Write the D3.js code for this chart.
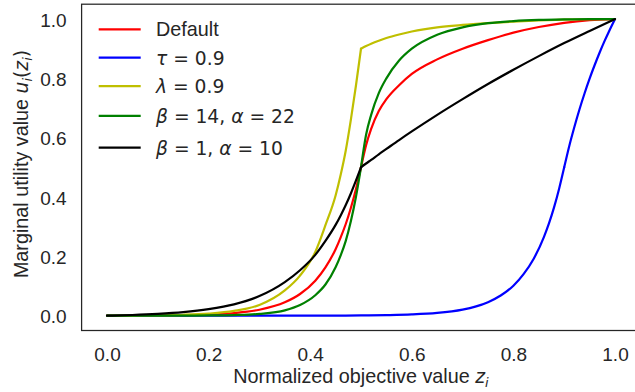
<!DOCTYPE html>
<html>
<head>
<meta charset="utf-8">
<script src="https://cdn.jsdelivr.net/npm/d3@7/dist/d3.min.js"></script>
<style>
  body { margin: 0; background: #fff; }
  svg { display: block; }
</style>
</head>
<body>
<svg id="chart" width="635" height="392"></svg>
<script>
// z grid for the curves with reference point 0.5
const zValues = [0, 0.05, 0.1, 0.15, 0.2, 0.25, 0.3, 0.35, 0.38, 0.41, 0.43, 0.45, 0.46, 0.47, 0.48, 0.49, 0.5,
    0.51, 0.52, 0.535, 0.55, 0.575, 0.6, 0.65, 0.7, 0.75, 0.8, 0.85, 0.9, 0.95, 1.0];

const defaultValues = [0, 0.0002, 0.0007, 0.0017, 0.0039, 0.009, 0.020, 0.045, 0.073, 0.118, 0.163, 0.224, 0.264, 0.309, 0.363, 0.426, 0.5,
    0.575, 0.63, 0.69, 0.73, 0.777, 0.815, 0.864, 0.9, 0.929, 0.954, 0.973, 0.987, 0.996, 1.0];
const lambdaValues = [0, 0.0004, 0.0012, 0.003, 0.007, 0.016, 0.036, 0.085, 0.135, 0.215, 0.305, 0.405, 0.475, 0.557, 0.66, 0.775, 0.9,
    0.909, 0.917, 0.927, 0.936, 0.948, 0.958, 0.972, 0.980, 0.986, 0.991, 0.995, 0.998, 0.9995, 1.0];
const steepValues = [0, 0, 0.0001, 0.0002, 0.0007, 0.002, 0.006, 0.018, 0.036, 0.069, 0.105, 0.163, 0.203, 0.252, 0.318, 0.40, 0.5,
    0.61, 0.677, 0.75, 0.80, 0.86, 0.90, 0.947, 0.972, 0.986, 0.993, 0.997, 0.999, 1.0, 1.0];
const flatValues = [0, 0.0022, 0.006, 0.012, 0.022, 0.038, 0.066, 0.113, 0.153, 0.205, 0.252, 0.306, 0.338, 0.373, 0.412, 0.455, 0.5,
    0.513, 0.525, 0.544, 0.562, 0.592, 0.621, 0.677, 0.730, 0.781, 0.829, 0.875, 0.919, 0.960, 1.0];

// z grid for the tau = 0.9 curve
const zShifted = [0, 0.1, 0.2, 0.3, 0.4, 0.5, 0.55, 0.6, 0.65, 0.7, 0.725, 0.75, 0.775, 0.8, 0.82, 0.84, 0.86, 0.87, 0.88, 0.89, 0.9,
    0.91, 0.92, 0.93, 0.94, 0.95, 0.96, 0.97, 0.98, 0.99, 1.0];
const shiftedValues = [0, 0, 0, 0, 0.0001, 0.0008, 0.0019, 0.0041, 0.0092, 0.0205, 0.0305, 0.0456, 0.068, 0.101, 0.14, 0.192, 0.265, 0.311, 0.365, 0.428, 0.5,
    0.572, 0.636, 0.695, 0.749, 0.799, 0.845, 0.888, 0.928, 0.965, 1.0];

// reference point of each curve (where the two branches meet)
const referencePoints = [0.5, 0.9, 0.5, 0.5, 0.5];

// legend text, split in plain / math-italic / math-roman parts
const legendLabels = [
    [["Default", "text"]],
    [["τ", "mi"], [" = 0.9", "mr"]],
    [["λ", "mi"], [" = 0.9", "mr"]],
    [["β", "mi"], [" = 14, ", "mr"], ["α", "mi"], [" = 22", "mr"]],
    [["β", "mi"], [" = 1, ", "mr"], ["α", "mi"], [" = 10", "mr"]]
];

const xTicks = [0, 0.2, 0.4, 0.6, 0.8, 1.0];
const yTicks = [0, 0.2, 0.4, 0.6, 0.8, 1.0];

window.utilityChart = {
    svg: null,
    x: null,
    y: null,

    textFont: "'Liberation Sans', Arial, sans-serif",
    mathFont: "'DejaVu Sans', sans-serif",
    ink: "#262626",
    textSize: 19.8,
    mathSize: 18.7,

    init: function (svgId) {
        const margin = { left: 81.6, top: 4.2, right: 640.4, bottom: 330.5 };

        this.svg = d3.select(`#${svgId}`);
        this.svg.selectAll("*").remove();

        this.x = d3.scaleLinear().domain([-0.05, 1.05]).range([margin.left, margin.right]);
        this.y = d3.scaleLinear().domain([-0.05, 1.05]).range([margin.bottom, margin.top]);

        const series = [
            { z: zValues, u: defaultValues, color: "#ff0000" },
            { z: zShifted, u: shiftedValues, color: "#0000ff" },
            { z: zValues, u: lambdaValues, color: "#bfbf00" },
            { z: zValues, u: steepValues, color: "#008000" },
            { z: zValues, u: flatValues, color: "#000000" }
        ];

        // Frame (spines)
        this.svg.append("rect")
            .attr("x", margin.left)
            .attr("y", margin.top)
            .attr("width", margin.right - margin.left)
            .attr("height", margin.bottom - margin.top)
            .attr("fill", "none")
            .attr("stroke", this.ink)
            .attr("stroke-width", 1.25);

        // Axes, no tick marks
        const xAxis = this.svg.append("g")
            .attr("transform", `translate(0,${margin.bottom})`)
            .call(d3.axisBottom(this.x).tickValues(xTicks).tickFormat(d3.format(".1f")).tickSize(0).tickPadding(16.8));
        const yAxis = this.svg.append("g")
            .attr("transform", `translate(${margin.left},0)`)
            .call(d3.axisLeft(this.y).tickValues(yTicks).tickFormat(d3.format(".1f")).tickSize(0).tickPadding(15));

        [xAxis, yAxis].forEach(g => {
            g.select(".domain").remove();
            g.selectAll("text")
                .attr("font-family", this.textFont)
                .attr("font-size", 19)
                .attr("fill", this.ink);
        });
        yAxis.selectAll("text").attr("dy", "0.38em");

        // Curves: lower and upper branch drawn separately so the kink stays sharp
        const line = d3.line()
            .x(d => this.x(d[0]))
            .y(d => this.y(d[1]))
            .curve(d3.curveMonotoneX);

        series.forEach((s, i) => {
            const tau = referencePoints[i];
            const pts = s.z.map((z, j) => [z, s.u[j]]);
            const branches = [pts.filter(p => p[0] <= tau), pts.filter(p => p[0] >= tau)];
            branches.forEach(b => {
                this.svg.append("path")
                    .attr("d", line(b))
                    .attr("fill", "none")
                    .attr("stroke", s.color)
                    .attr("stroke-width", 2.2)
                    .attr("stroke-linecap", "round")
                    .attr("stroke-linejoin", "round");
            });
        });

        // Legend
        const rowY = [29.3, 57.7, 86.2, 115.8, 147.6];
        const legend = this.svg.append("g");
        legendLabels.forEach((parts, i) => {
            legend.append("line")
                .attr("x1", 98.7).attr("x2", 140.7)
                .attr("y1", rowY[i]).attr("y2", rowY[i])
                .attr("stroke", series[i].color)
                .attr("stroke-width", 2.2);
            const t = legend.append("text")
                .attr("x", 156)
                .attr("y", rowY[i] + 7)
                .attr("fill", this.ink);
            this.addParts(t, parts);
        });

        // Axis labels
        const xl = this.svg.append("text")
            .attr("x", (margin.left + margin.right) / 2)
            .attr("y", 383.3)
            .attr("text-anchor", "middle")
            .attr("fill", this.ink);
        this.addParts(xl, [["Normalized objective value ", "text"], ["z", "mi"], ["i", "sub"]]);

        const yl = this.svg.append("text")
            .attr("transform", "translate(28,164) rotate(-90)")
            .attr("text-anchor", "middle")
            .attr("fill", this.ink);
        this.addParts(yl, [["Marginal utility value ", "text"], ["u", "mi"], ["i", "sub"], ["(", "mr"], ["z", "mi"], ["i", "sub"], [")", "mr"]]);
    },

    /**
     * Append plain / mathtext-like pieces to a text element
     */
    addParts: function (textSel, parts) {
        let shifted = false;
        parts.forEach(([str, kind]) => {
            const ts = textSel.append("tspan").text(str);
            if (kind === "text") {
                ts.attr("font-family", this.textFont).attr("font-size", this.textSize);
            } else {
                ts.attr("font-family", this.mathFont).attr("font-size", this.mathSize);
                if (kind === "mi" || kind === "sub") ts.attr("font-style", "italic");
            }
            if (kind === "sub") {
                ts.attr("font-size", 13).attr("dy", 4);
                shifted = true;
            } else if (shifted) {
                ts.attr("dy", -4);
                shifted = false;
            }
        });
    }
};

window.utilityChart.init("chart");
</script>
</body>
</html>
